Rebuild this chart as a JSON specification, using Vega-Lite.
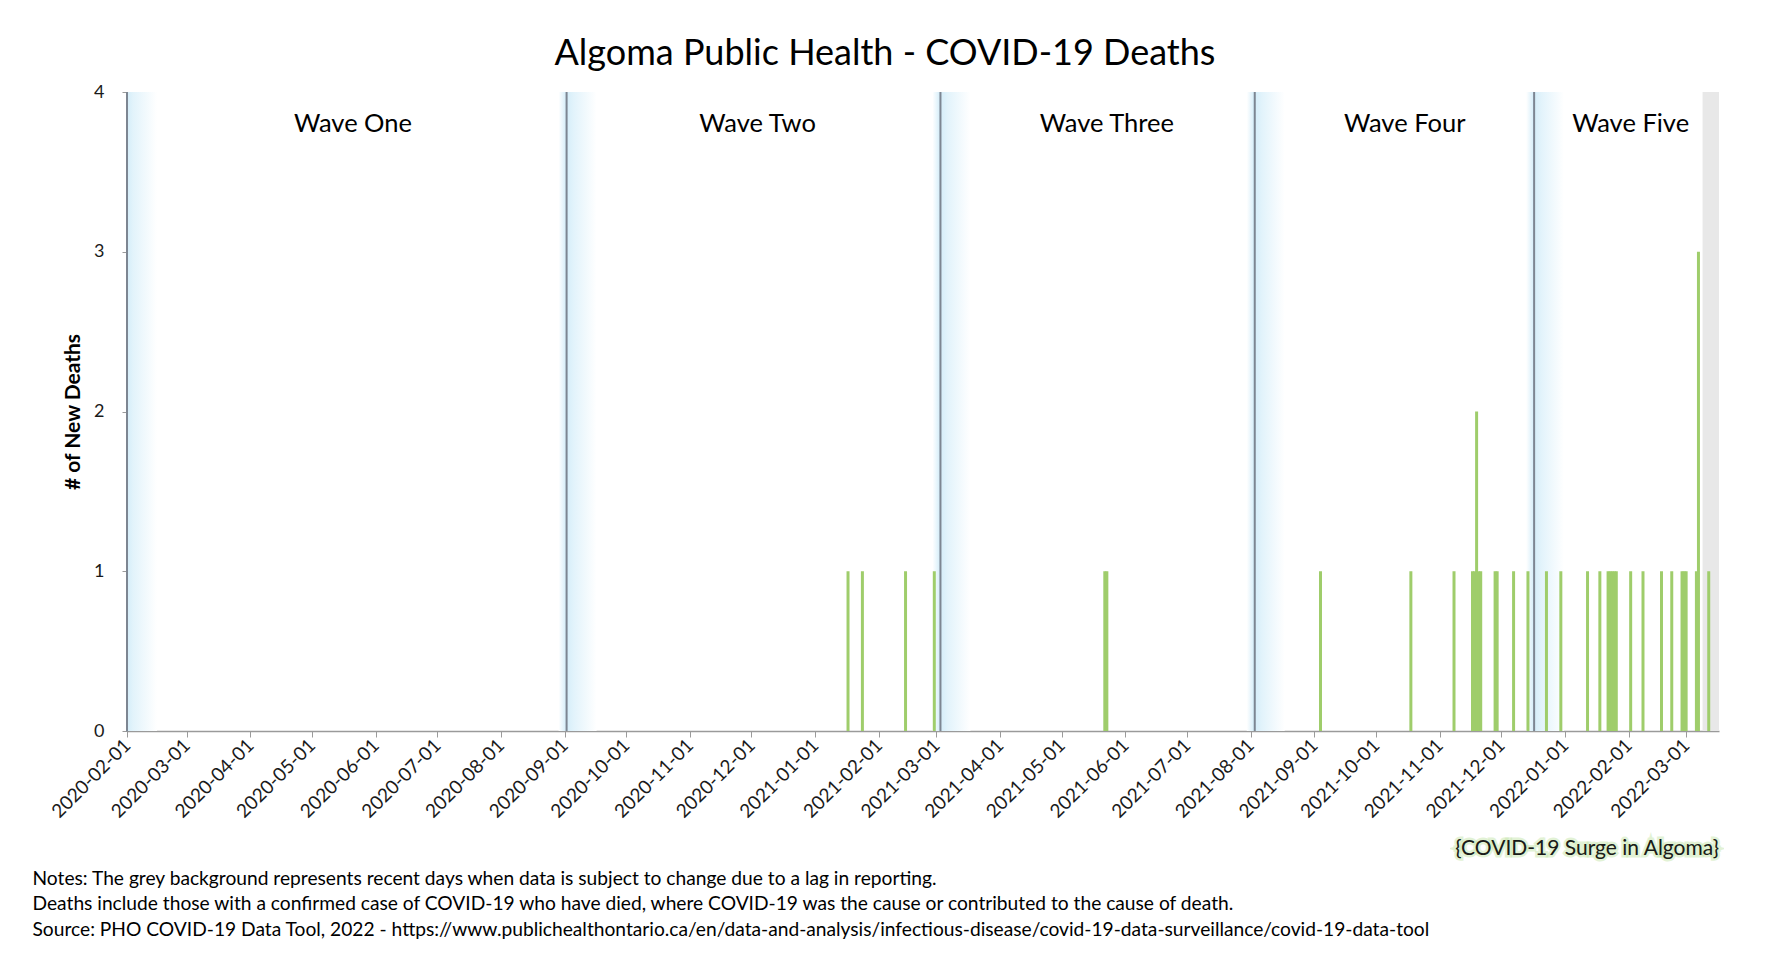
{
  "$schema": "https://vega.github.io/schema/vega-lite/v6.json",
  "width": 1592,
  "height": 639,
  "autosize": {"type": "none"},
  "padding": {"left": 127, "top": 92, "right": 51, "bottom": 225},
  "background": "white",
  "config": {
    "font": "Lato",
    "view": {"stroke": null},
    "axisX": {
      "labelAngle": -45,
      "labelAlign": "right",
      "labelBaseline": "middle",
      "labelFontSize": 19,
      "labelColor": "#1a1a1a",
      "labelPadding": 5,
      "labelOverlap": false,
      "labelFlush": false,
      "tickSize": 6,
      "tickColor": "#9a9a9a",
      "tickWidth": 1,
      "domainColor": "#9a9a9a",
      "domainWidth": 1.5,
      "grid": false,
      "titleFontSize": 19.2,
      "titleFontWeight": "normal",
      "titleColor": "#000000",
      "titleAlign": "left",
      "titleAnchor": "start",
      "titleBaseline": "top",
      "titleLineHeight": 25.5,
      "titleX": -95,
      "titleY": 138
    },
    "axisY": {
      "titleFontSize": 21,
      "titleFontWeight": "bold",
      "titleColor": "#000000",
      "titlePadding": 10,
      "labelFontSize": 18,
      "labelColor": "#1a1a1a",
      "labelPadding": 18,
      "tickSize": 5,
      "tickColor": "#9a9a9a",
      "domainColor": "#7d8692",
      "domainWidth": 2,
      "gridColor": "#a8a8a8",
      "gridWidth": 1.5,
      "zindex": 1
    }
  },
  "title": {
    "text": "Algoma Public Health - COVID-19 Deaths",
    "fontSize": 36,
    "fontWeight": "normal",
    "color": "#000000",
    "anchor": "middle",
    "offset": 10,
    "dx": -38
  },
  "datasets": {
    "deaths": [
      {"date": "2021-01-17", "deaths": 1},
      {"date": "2021-01-24", "deaths": 1},
      {"date": "2021-02-14", "deaths": 1},
      {"date": "2021-02-28", "deaths": 1},
      {"date": "2021-05-22", "deaths": 1},
      {"date": "2021-05-23", "deaths": 1},
      {"date": "2021-09-04", "deaths": 1},
      {"date": "2021-10-18", "deaths": 1},
      {"date": "2021-11-08", "deaths": 1},
      {"date": "2021-11-17", "deaths": 1},
      {"date": "2021-11-18", "deaths": 1},
      {"date": "2021-11-19", "deaths": 2},
      {"date": "2021-11-20", "deaths": 1},
      {"date": "2021-11-21", "deaths": 1},
      {"date": "2021-11-28", "deaths": 1},
      {"date": "2021-11-29", "deaths": 1},
      {"date": "2021-12-07", "deaths": 1},
      {"date": "2021-12-14", "deaths": 1},
      {"date": "2021-12-23", "deaths": 1},
      {"date": "2021-12-30", "deaths": 1},
      {"date": "2022-01-12", "deaths": 1},
      {"date": "2022-01-18", "deaths": 1},
      {"date": "2022-01-22", "deaths": 1},
      {"date": "2022-01-23", "deaths": 1},
      {"date": "2022-01-24", "deaths": 1},
      {"date": "2022-01-25", "deaths": 1},
      {"date": "2022-01-26", "deaths": 1},
      {"date": "2022-02-02", "deaths": 1},
      {"date": "2022-02-08", "deaths": 1},
      {"date": "2022-02-17", "deaths": 1},
      {"date": "2022-02-22", "deaths": 1},
      {"date": "2022-02-27", "deaths": 1},
      {"date": "2022-02-28", "deaths": 1},
      {"date": "2022-03-01", "deaths": 1},
      {"date": "2022-03-06", "deaths": 1},
      {"date": "2022-03-07", "deaths": 3},
      {"date": "2022-03-12", "deaths": 1}
    ],
    "waves": [
      {"wave": "Wave One", "start": "2020-02-01", "label_date": "2020-05-21"},
      {"wave": "Wave Two", "start": "2020-09-02", "label_date": "2020-12-04"},
      {"wave": "Wave Three", "start": "2021-03-03", "label_date": "2021-05-23"},
      {"wave": "Wave Four", "start": "2021-08-03", "label_date": "2021-10-15"},
      {"wave": "Wave Five", "start": "2021-12-17", "label_date": "2022-02-02"}
    ],
    "recent": [
      {"start": "2022-03-09", "end": "2022-03-17"}
    ],
    "note": [
      {"date": "2022-03-17", "label": "{COVID-19 Surge in Algoma}"}
    ]
  },
  "layer": [
    {
      "data": {"name": "recent"},
      "mark": {"type": "rect", "color": "#e8e8e8"},
      "encoding": {
        "x": {
          "field": "start",
          "type": "temporal",
          "scale": {"type": "utc", "domain": ["2020-02-01", "2022-03-17"], "nice": false, "padding": 0},
          "axis": {
            "format": "%Y-%m-%d",
            "tickCount": {"interval": "month", "step": 1},
            "title": [
              "Notes: The grey background represents recent days when data is subject to change due to a lag in reporting.",
              "Deaths include those with a confirmed case of COVID-19 who have died, where COVID-19 was the cause or contributed to the cause of death.",
              "Source: PHO COVID-19 Data Tool, 2022 - https://www.publichealthontario.ca/en/data-and-analysis/infectious-disease/covid-19-data-surveillance/covid-19-data-tool"
            ]
          }
        },
        "x2": {"field": "end"},
        "y": {
          "datum": 0,
          "type": "quantitative",
          "scale": {"domain": [0, 4]},
          "axis": {"values": [0, 1, 2, 3, 4], "format": "d", "title": "# of New Deaths"}
        },
        "y2": {"datum": 4}
      }
    },
    {
      "data": {"name": "waves"},
      "transform": [{"filter": "datum.wave != 'Wave One'"}],
      "mark": {
        "type": "bar",
        "width": 38,
        "xOffset": 11,
        "clip": true,
        "color": {
          "gradient": "linear",
          "x1": 0, "y1": 0, "x2": 1, "y2": 0,
          "stops": [
            {"offset": 0, "color": "#ffffff"},
            {"offset": 0.2, "color": "#d4edf9"},
            {"offset": 0.4, "color": "#e2f3fb"},
            {"offset": 1, "color": "#ffffff"}
          ]
        }
      },
      "encoding": {
        "x": {"field": "start", "type": "temporal", "axis": {"format": "%Y-%m-%d", "tickCount": {"interval": "month", "step": 1}}},
        "y": {"datum": 0, "type": "quantitative", "axis": {"values": [0, 1, 2, 3, 4], "format": "d"}},
        "y2": {"datum": 4}
      }
    },
    {
      "data": {"name": "waves"},
      "transform": [{"filter": "datum.wave == 'Wave One'"}],
      "mark": {
        "type": "bar",
        "width": 60,
        "clip": true,
        "color": {
          "gradient": "linear",
          "x1": 0, "y1": 0, "x2": 1, "y2": 0,
          "stops": [
            {"offset": 0, "color": "#ffffff"},
            {"offset": 0.5, "color": "#d4edf9"},
            {"offset": 0.6, "color": "#e2f3fb"},
            {"offset": 1, "color": "#ffffff"}
          ]
        }
      },
      "encoding": {
        "x": {"field": "start", "type": "temporal", "axis": {"format": "%Y-%m-%d", "tickCount": {"interval": "month", "step": 1}}},
        "y": {"datum": 0, "type": "quantitative", "axis": {"values": [0, 1, 2, 3, 4], "format": "d"}},
        "y2": {"datum": 4}
      }
    },
    {
      "data": {"name": "deaths"},
      "mark": {"type": "bar", "width": 3, "color": "#9fcd6b"},
      "encoding": {
        "x": {"field": "date", "type": "temporal", "axis": {"format": "%Y-%m-%d", "tickCount": {"interval": "month", "step": 1}}},
        "y": {"field": "deaths", "type": "quantitative", "axis": {"values": [0, 1, 2, 3, 4], "format": "d"}},
        "opacity": {
          "condition": {"test": "datum.date >= '2022-03-09'", "value": 0.55},
          "value": 1
        }
      }
    },
    {
      "data": {"name": "waves"},
      "mark": {"type": "rule", "color": "#7d8692", "strokeWidth": 2},
      "encoding": {
        "x": {"field": "start", "type": "temporal", "axis": {"format": "%Y-%m-%d", "tickCount": {"interval": "month", "step": 1}}}
      }
    },
    {
      "data": {"name": "waves"},
      "mark": {"type": "text", "fontSize": 25.5, "color": "#000000", "align": "center", "baseline": "middle"},
      "encoding": {
        "x": {"field": "label_date", "type": "temporal", "axis": {"format": "%Y-%m-%d", "tickCount": {"interval": "month", "step": 1}}},
        "y": {"datum": 3.8, "type": "quantitative", "axis": {"values": [0, 1, 2, 3, 4], "format": "d"}},
        "text": {"field": "wave"}
      }
    },
    {
      "data": {"name": "note"},
      "mark": {"type": "text", "fontSize": 21, "color": "#b4dd92", "stroke": "#b4dd92", "strokeWidth": 5, "strokeOpacity": 0.5, "opacity": 0.75, "align": "right", "baseline": "middle"},
      "encoding": {
        "x": {"field": "date", "type": "temporal", "axis": {"format": "%Y-%m-%d", "tickCount": {"interval": "month", "step": 1}}},
        "y": {"datum": -0.74, "type": "quantitative", "axis": {"values": [0, 1, 2, 3, 4], "format": "d"}},
        "text": {"field": "label"}
      }
    },
    {
      "data": {"name": "note"},
      "mark": {"type": "text", "fontSize": 21, "color": "#1a1a1a", "align": "right", "baseline": "middle"},
      "encoding": {
        "x": {"field": "date", "type": "temporal", "axis": {"format": "%Y-%m-%d", "tickCount": {"interval": "month", "step": 1}}},
        "y": {"datum": -0.74, "type": "quantitative", "axis": {"values": [0, 1, 2, 3, 4], "format": "d"}},
        "text": {"field": "label"}
      }
    }
  ]
}
